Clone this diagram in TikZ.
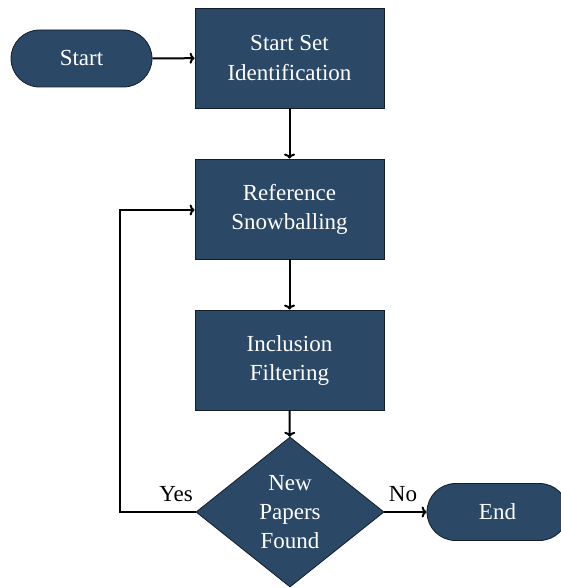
\documentclass[tikz,border=0pt]{standalone}
\usepackage{fontspec}
\setmainfont{Liberation Serif}
\usetikzlibrary{shapes.geometric,shapes.misc,arrows.meta}
\definecolor{boxfill}{RGB}{43,72,102}
\definecolor{boxline}{RGB}{20,30,40}
\tikzset{
  base/.style={fill=boxfill, draw=boxline, line width=0.8pt, text=white,
    font=\fontsize{23}{29}\selectfont, align=center, inner sep=0pt},
  procbox/.style={base, rectangle, minimum width=189pt, minimum height=100pt},
  term/.style={base, rounded rectangle, minimum width=141pt, minimum height=57pt},
  decision/.style={base, diamond, aspect=1.253, minimum width=188pt, minimum height=150pt},
  conn/.style={draw=black, line width=2pt, -{To[length=5pt,width=11pt]}},
  lbl/.style={font=\fontsize{23}{29}\selectfont, text=black, inner sep=0pt}
}
\begin{document}
\begin{tikzpicture}[x=1pt,y=-1pt]
\useasboundingbox (0,0) rectangle (561,588);
\node[term] (start) at (81.5,58.5) {Start};
\node[procbox] (b1) at (289.5,58) {Start Set\\Identification};
\node[procbox] (b2) at (289.5,209) {Reference\\Snowballing};
\node[procbox] (b3) at (289.5,360) {Inclusion\\Filtering};
\node[decision] (d) at (290,512) {New\\Papers\\Found};
\node[term] (end) at (497.5,512) {End};
\coordinate (lp) at (120,512);
\coordinate (lq) at (120,210);
\draw[conn] (start) -- (b1);
\draw[conn] (b1) -- (b2);
\draw[conn] (b2) -- (b3);
\draw[conn] (b3) -- (d);
\draw[conn] (d) -- (end);
\draw[conn] (d.west) -- (lp) -- (lq) -- (b2.west |- lq);
\node[lbl] (yes) at (176,494) {Yes};
\node[lbl] (no) at (403,494) {No};
\end{tikzpicture}
\end{document}
